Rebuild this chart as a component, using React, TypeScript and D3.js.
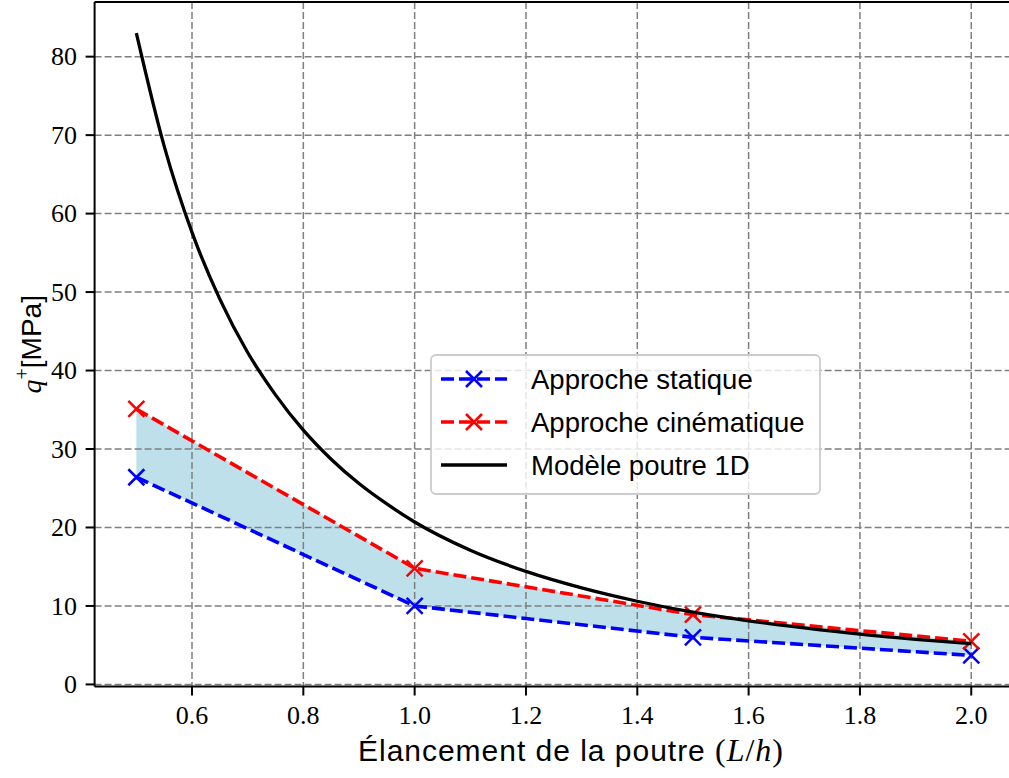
import React from "react";
import * as d3 from "d3";

const slenderness = [0.5, 1.0, 1.5, 2.0];
const staticValues = [26.4, 10.0, 6.0, 3.7];
const kinematicValues = [35.1, 14.8, 8.9, 5.5];
const beamX = [0.5, 0.55, 0.6, 0.65, 0.7, 0.75, 0.8, 0.85, 0.9, 0.95, 1.0, 1.1, 1.2, 1.3, 1.4, 1.5, 1.6, 1.7, 1.8, 1.9, 2.0];
const beamY = [83.0, 68.6, 57.6, 49.1, 42.3, 36.9, 32.4, 28.7, 25.6, 23.0, 20.7, 17.1, 14.4, 12.3, 10.6, 9.2, 8.1, 7.2, 6.4, 5.75, 5.2];
const xTicks = [0.6, 0.8, 1.0, 1.2, 1.4, 1.6, 1.8, 2.0];
const yTicks = [0, 10, 20, 30, 40, 50, 60, 70, 80];
const legendLabels = ["Approche statique", "Approche cinématique", "Modèle poutre 1D"];

const W = 1009, H = 778;
const left = 94.6, right = 1013, top = 2, bottom = 686.5;
const SANS = "'Liberation Sans', Arial, sans-serif";
const SERIF = "'Liberation Serif', 'DejaVu Serif', serif";

function XMark({ cx, cy, color, s = 8 }: { cx: number; cy: number; color: string; s?: number }) {
  return (
    <path d={`M${cx - s},${cy - s}L${cx + s},${cy + s}M${cx - s},${cy + s}L${cx + s},${cy - s}`} stroke={color} strokeWidth={2.5} fill="none" />
  );
}

export default function App() {
  const xmin = d3.min(slenderness)!, xmax = d3.max(slenderness)!;
  const xm = (xmax - xmin) * 0.05;
  const x = d3.scaleLinear().domain([xmin - xm, xmax + xm]).range([left, right]);
  const allY = [...staticValues, ...kinematicValues, ...beamY];
  const ymin = d3.min(allY)!, ymax = d3.max(allY)!;
  const ym = (ymax - ymin) * 0.05;
  const y = d3.scaleLinear().domain([ymin - ym, ymax + ym]).range([bottom, top]);

  const idx = slenderness.map((_, i) => i);
  const area = d3.area<number>().x((i) => x(slenderness[i])).y0((i) => y(staticValues[i])).y1((i) => y(kinematicValues[i]));
  const lineS = d3.line<number>().x((i) => x(slenderness[i])).y((i) => y(staticValues[i]));
  const lineK = d3.line<number>().x((i) => x(slenderness[i])).y((i) => y(kinematicValues[i]));
  const lineB = d3.line<number>().x((i) => x(beamX[i])).y((i) => y(beamY[i])).curve(d3.curveMonotoneX);
  const bIdx = beamX.map((_, i) => i);

  const legX = 431, legY = 355, legW = 389, legH = 139;
  const rows = [379, 422, 465];

  return (
    <svg width={W} height={H} style={{ position: "absolute", left: 0, top: 0, background: "#fff" }}>
      <defs>
        <clipPath id="plot">
          <rect x={left} y={top} width={right - left} height={bottom - top} />
        </clipPath>
      </defs>
      <path d={area(idx)!} fill="#add8e6" fillOpacity={0.8} stroke="none" clipPath="url(#plot)" />
      {/* grid */}
      <g stroke="#7f7f7f" strokeWidth={1.5} strokeDasharray="7,3">
        {xTicks.map((t) => (
          <line key={"gx" + t} x1={x(t)} x2={x(t)} y1={top} y2={bottom} />
        ))}
        {yTicks.map((t) => (
          <line key={"gy" + t} x1={left} x2={right} y1={y(t)} y2={y(t)} />
        ))}
      </g>
      <g clipPath="url(#plot)" fill="none">
        <path d={lineS(idx)!} stroke="#0000ff" strokeWidth={3.6} strokeDasharray="13,5" />
        <path d={lineK(idx)!} stroke="#ff0000" strokeWidth={3.6} strokeDasharray="13,5" />
        {idx.map((i) => (
          <XMark key={"s" + i} cx={x(slenderness[i])} cy={y(staticValues[i])} color="#0000ff" />
        ))}
        {idx.map((i) => (
          <XMark key={"k" + i} cx={x(slenderness[i])} cy={y(kinematicValues[i])} color="#ff0000" />
        ))}
        <path d={lineB(bIdx)!} stroke="#000" strokeWidth={3.3} />
      </g>
      {/* spines */}
      <g stroke="#000" strokeWidth={2}>
        <line x1={left} x2={left} y1={top} y2={bottom} />
        <line x1={left} x2={right} y1={bottom} y2={bottom} />
        <line x1={left} x2={right} y1={top} y2={top} />
        <line x1={right} x2={right} y1={top} y2={bottom} />
      </g>
      {/* ticks */}
      <g stroke="#000" strokeWidth={2}>
        {xTicks.map((t) => (
          <line key={"tx" + t} x1={x(t)} x2={x(t)} y1={bottom} y2={bottom + 9} />
        ))}
        {yTicks.map((t) => (
          <line key={"ty" + t} x1={left - 9} x2={left} y1={y(t)} y2={y(t)} />
        ))}
      </g>
      <g fontFamily={SERIF} fontSize={26} fill="#000">
        {xTicks.map((t) => (
          <text key={"lx" + t} x={x(t)} y={724} textAnchor="middle">{d3.format(".1f")(t)}</text>
        ))}
        {yTicks.map((t) => (
          <text key={"ly" + t} x={77} y={y(t)} dy="0.33em" textAnchor="end">{t}</text>
        ))}
      </g>
      {/* x label */}
      <text x={358} y={761} fontSize={30} fontFamily={SANS} textLength={425} lengthAdjust="spacing">
        Élancement de la poutre <tspan fontFamily={SERIF} fontSize={32}>(</tspan>
        <tspan fontFamily={SERIF} fontStyle="italic" fontSize={32}>L</tspan>
        <tspan fontFamily={SERIF} fontSize={32}>/</tspan>
        <tspan fontFamily={SERIF} fontStyle="italic" fontSize={32}>h</tspan>
        <tspan fontFamily={SERIF} fontSize={32}>)</tspan>
      </text>
      {/* y label */}
      <text transform={`translate(41,${(top + bottom) / 2}) rotate(-90)`} textAnchor="middle" fontSize={28} fontFamily={SANS}>
        <tspan fontFamily={SERIF} fontStyle="italic">q</tspan>
        <tspan fontFamily={SERIF} fontSize={20} dy={-12}>+</tspan>
        <tspan dy={12}>[MPa]</tspan>
      </text>
      {/* legend */}
      <rect x={legX} y={legY} width={legW} height={legH} rx={5} fill="#fff" fillOpacity={0.8} stroke="#cccccc" strokeWidth={1.8} />
      <g>
        <line x1={441} x2={507} y1={rows[0]} y2={rows[0]} stroke="#0000ff" strokeWidth={3.6} strokeDasharray="13,5" />
        <XMark cx={474} cy={rows[0]} color="#0000ff" />
        <line x1={441} x2={507} y1={rows[1]} y2={rows[1]} stroke="#ff0000" strokeWidth={3.6} strokeDasharray="13,5" />
        <XMark cx={474} cy={rows[1]} color="#ff0000" />
        <line x1={441} x2={507} y1={rows[2]} y2={rows[2]} stroke="#000" strokeWidth={3.3} />
        {legendLabels.map((l, i) => (
          <text key={l} x={531} y={rows[i]} dy="0.36em" fontSize={27.5} fontFamily={SANS}>{l}</text>
        ))}
      </g>
    </svg>
  );
}
